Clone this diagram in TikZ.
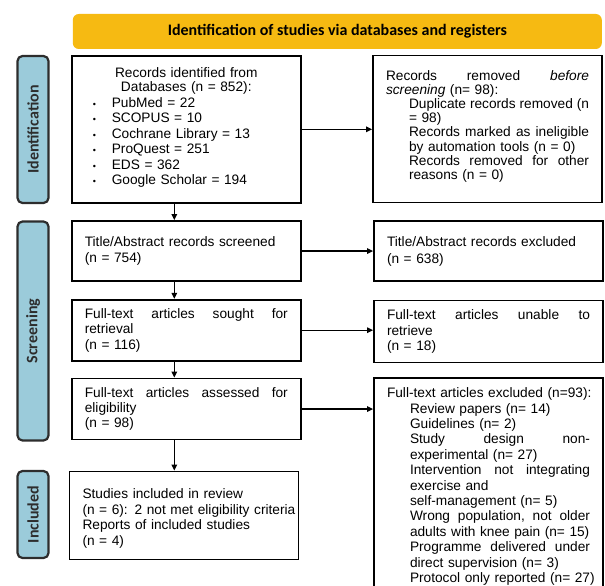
\documentclass[tikz,border=0pt]{standalone}
\usepackage{fontspec}
\setmainfont{Liberation Sans}
\newfontfamily\headfont{Carlito}
\usetikzlibrary{arrows.meta}

\definecolor{bannerorange}{RGB}{246,186,18}
\definecolor{phaseblue}{RGB}{155,203,218}
\definecolor{edgegray}{RGB}{45,45,45}

% justified and indented lines inside the boxes
\newcommand{\fullline}[1]{\hbox to \linewidth{#1}}
\newcommand{\subline}[1]{\hspace*{23pt}\mbox{#1}}
\newcommand{\fullsubline}[1]{\hspace*{23pt}\hbox to \dimexpr\linewidth-23pt\relax{#1}}
\newcommand{\dbitem}[1]{\makebox[27pt][l]{\hspace*{8pt}{\fontsize{9}{9}\selectfont\textbullet}}#1}

\begin{document}
\begin{tikzpicture}[x=1pt,y=-1pt,
  box/.style={draw=black, line width=1.8pt, fill=white, inner xsep=13pt,
    text width=203pt, align=left, font=\fontsize{13.7}{15.4}\selectfont},
  phase/.style={draw=edgegray, line width=2.2pt, fill=phaseblue, rounded corners=5pt,
    rotate=90, minimum height=31pt, text=edgegray,
    font=\headfont\bfseries\fontsize{16}{18}\selectfont},
  flow/.style={-{Triangle[length=6pt,width=5.5pt]}, line width=1.3pt}]
  \useasboundingbox (0,0) rectangle (605,586);
  \clip (0,0) rectangle (605,586);

  % Banner
  \node[fill=bannerorange, rounded corners=6pt, minimum width=529pt, minimum height=35pt,
    font=\headfont\bfseries\fontsize{16}{18}\selectfont] (banner) at (337.3,31.5)
    {Identification of studies via databases and registers};

  % Phase labels
  \node[phase, minimum width=147pt] (identlab) at (33,129.5) {Identification};
  \node[phase, minimum width=219pt] (screenlab) at (33,331) {Screening};
  \node[phase, minimum width=87pt] (inclab) at (33,514.5) {Included};

  % Left column
  \node[box, minimum height=147pt] (records) at (186.3,129.3) {%
    \makebox[\linewidth][c]{Records identified from}\\[-1.5pt]
    \makebox[\linewidth][c]{Databases (n = 852):}\\[1pt]
    \dbitem{PubMed = 22}\\
    \dbitem{SCOPUS = 10}\\
    \dbitem{Cochrane Library = 13}\\
    \dbitem{ProQuest = 251}\\
    \dbitem{EDS = 362}\\
    \dbitem{Google Scholar = 194}\\[-8.4pt]\mbox{}};
  \node[box, minimum height=60pt] (screened) at (186.3,251) {%
    Title/Abstract records screened\\[1.5pt] (n = 754)};
  \node[box, minimum height=61pt] (sought) at (186.3,330.2) {%
    \fullline{Full-text\hfill articles\hfill sought\hfill for}\\ retrieval\\ (n = 116)};
  \node[box, minimum height=61pt] (assessed) at (186.3,409) {%
    \fullline{Full-text\hfill articles\hfill assessed\hfill for}\\ eligibility\\ (n = 98)};
  \node[box, minimum height=88pt] (included) at (184,515.5) {%
    \mbox{}\\[0.6pt]
    Studies included in review\\ \mbox{(n = 6): 2 not met eligibility criteria}\\
    Reports of included studies\\ (n = 4)};

  % Right column
  \node[box, minimum height=147pt, font=\fontsize{13.7}{14.1}\selectfont] (removed) at (487.5,129) {%
    \fullline{Records\hfill removed\hfill \textit{before}}\\
    \textit{screening} (n= 98):\\
    \fullsubline{Duplicate\hfill records\hfill removed\hfill (n}\\
    \subline{= 98)}\\
    \fullsubline{Records\hfill marked\hfill as\hfill ineligible}\\
    \subline{by automation tools (n = 0)}\\
    \fullsubline{Records\hfill removed\hfill for\hfill other}\\
    \subline{reasons (n = 0)}\\[-6pt]\mbox{}};
  \node[box, minimum height=60pt] (excluded) at (488.5,251.2) {%
    Title/Abstract records excluded\\[1.5pt] (n = 638)};
  \node[box, minimum height=62pt] (unable) at (488.5,331.5) {%
    \fullline{Full-text\hfill articles\hfill unable\hfill to}\\ retrieve\\ (n = 18)};
  \node[box, anchor=north, inner ysep=9.5pt] (reasons) at (488.5,377.3) {%
    \mbox{Full-text articles excluded (n=93):}\\
    \subline{Review papers (n= 14)}\\
    \subline{Guidelines (n= 2)}\\
    \fullsubline{Study\hfill design\hfill non-}\\
    \subline{experimental (n= 27)}\\
    \fullsubline{Intervention\hfill not\hfill integrating}\\
    \subline{exercise and}\\
    \subline{self-management (n= 5)}\\
    \fullsubline{Wrong\hfill population,\hfill not\hfill older}\\
    \subline{adults with knee pain (n= 15)}\\
    \fullsubline{Programme\hfill delivered\hfill under}\\
    \subline{direct supervision (n= 3)}\\
    \subline{Protocol only reported (n= 27)}};

  % Arrows down
  \draw[flow] ([xshift=-12pt]records.south) -- ([xshift=-12pt]records.south |- screened.north);
  \draw[flow] ([xshift=-12pt]screened.south) -- ([xshift=-12pt]screened.south |- sought.north);
  \draw[flow] ([xshift=-12pt]sought.south) -- ([xshift=-12pt]sought.south |- assessed.north);
  \draw[flow] ([xshift=-12pt]assessed.south) -- ([xshift=-12pt]assessed.south |- included.north);

  % Arrows across
  \draw[flow] (records.east) -- (records.east -| removed.west);
  \draw[flow] (screened.east) -- (screened.east -| excluded.west);
  \draw[flow] (sought.east) -- (sought.east -| unable.west);
  \draw[flow] (assessed.east) -- (assessed.east -| reasons.west);
\end{tikzpicture}
\end{document}
